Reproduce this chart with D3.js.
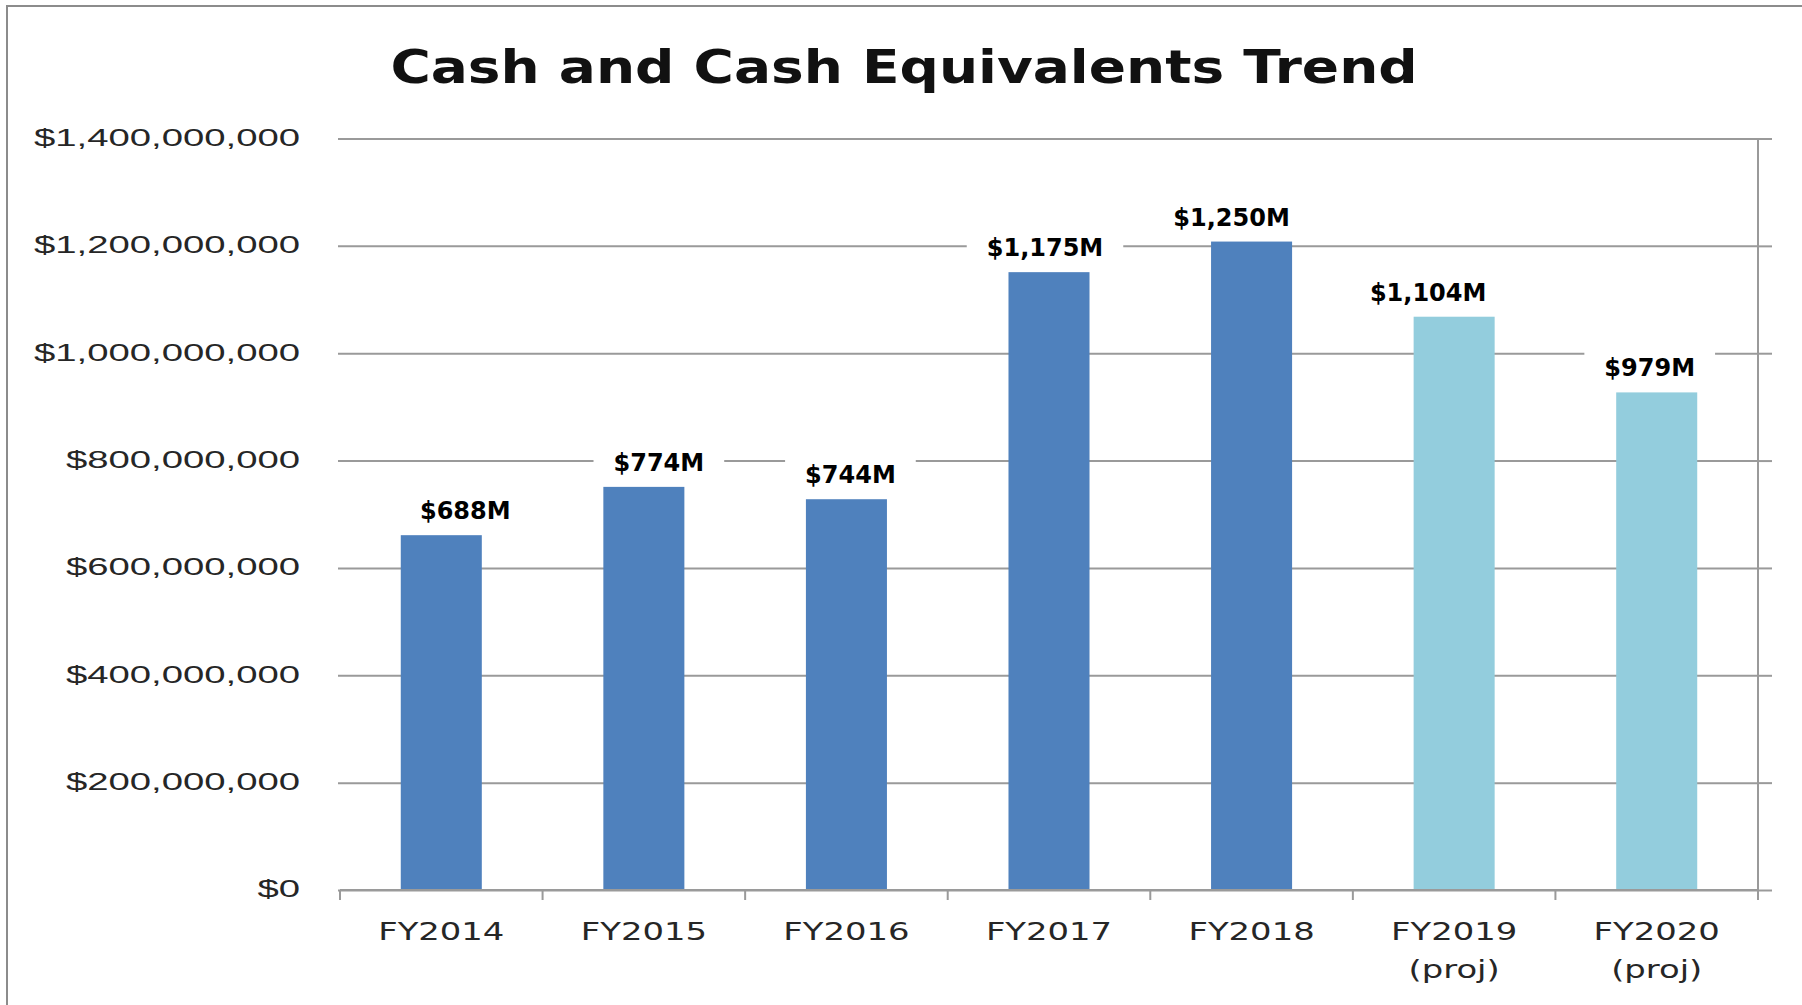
<!DOCTYPE html>
<html>
<head>
<meta charset="utf-8">
<script src="https://cdn.jsdelivr.net/npm/d3@7"></script>
<style>
    body { margin: 0; background: #fff; }
    svg { display: block; font-family: "DejaVu Sans", Verdana, sans-serif; }
</style>
</head>
<body>
<div id="chart"></div>
<script>
// Chart data
const years = ['FY2014', 'FY2015', 'FY2016', 'FY2017', 'FY2018', 'FY2019', 'FY2020'];
const subLabels = ['', '', '', '', '', '(proj)', '(proj)'];
const cashValues = [661e6, 751e6, 728e6, 1151e6, 1208e6, 1068e6, 927e6];
const valueLabels = ['$688M', '$774M', '$744M', '$1,175M', '$1,250M', '$1,104M', '$979M'];
const projected = [false, false, false, false, false, true, true];
const yTicks = [0, 2e8, 4e8, 6e8, 8e8, 1e9, 1.2e9, 1.4e9];

// label nudges (px), labels were hand placed in the original
const labelNudge = [24, 15, 4, -4, -20, -26, -7];

const W = 1802, H = 1005;
const margin = { top: 138.5, right: 44, bottom: 115, left: 340 };
const innerW = W - margin.left - margin.right;
const innerH = H - margin.top - margin.bottom;
const stretch = 1.55; // axis text is wide in the original
const catStretch = 1.37;

const svg = d3.select("#chart")
    .append("svg")
    .attr("width", W)
    .attr("height", H);

// outer chart border
svg.append("rect")
    .attr("x", 7).attr("y", 6)
    .attr("width", W + 20).attr("height", H + 20)
    .attr("fill", "none")
    .attr("stroke", "#8c8c8c")
    .attr("stroke-width", 2);

svg.append("text")
    .attr("transform", "translate(904,83) scale(1.17,1)")
    .attr("text-anchor", "middle")
    .style("font-size", "47px")
    .style("font-weight", "bold")
    .style("fill", "#111")
    .text("Cash and Cash Equivalents Trend");

const g = svg.append("g")
    .attr("transform", "translate(" + margin.left + "," + margin.top + ")");

const x = d3.scaleBand()
    .domain(years)
    .range([0, innerW])
    .paddingInner(0.6)
    .paddingOuter(0.3);

const y = d3.scaleLinear()
    .domain([0, 1.4e9])
    .range([innerH, 0]);

// gridlines + y labels
const yAxis = g.append("g")
    .call(d3.axisLeft(y)
        .tickValues(yTicks)
        .tickSize(-(innerW + 2))
        .tickFormat(d => "$" + d3.format(",")(d)));
yAxis.attr("transform", "translate(-2,0)");
yAxis.select(".domain").remove();
yAxis.selectAll(".tick line")
    .attr("stroke", "#9a9a9a")
    .attr("stroke-width", 2);
yAxis.selectAll(".tick text")
    .attr("x", -38 / stretch)
    .attr("dy", "0.28em")
    .attr("transform", "scale(" + stretch + ",1)")
    .style("font-size", "24.7px")
    .style("fill", "#262626");

// right axis line with outward ticks
const rAxis = g.append("g")
    .attr("transform", "translate(" + innerW + ",0)")
    .call(d3.axisRight(y).tickValues(yTicks).tickSize(14).tickFormat(""));
rAxis.select(".domain")
    .attr("d", "M0," + (innerH + 10) + "V0")
    .attr("stroke", "#9a9a9a")
    .attr("stroke-width", 2);
rAxis.selectAll(".tick line")
    .attr("stroke", "#9a9a9a")
    .attr("stroke-width", 2);

// bars
g.selectAll(".bar")
    .data(years)
    .enter()
    .append("rect")
    .attr("class", "bar")
    .attr("x", d => x(d))
    .attr("width", x.bandwidth())
    .attr("y", (d, i) => y(cashValues[i]))
    .attr("height", (d, i) => innerH - y(cashValues[i]))
    .attr("fill", (d, i) => projected[i] ? "#93CDDD" : "#4F81BD");

// bottom axis line and boundary ticks
const xb = g.append("g").attr("transform", "translate(0," + innerH + ")");
xb.append("line")
    .attr("x1", 0).attr("x2", innerW)
    .attr("stroke", "#9a9a9a").attr("stroke-width", 2);
xb.selectAll(".bt")
    .data(d3.range(years.length + 1))
    .enter()
    .append("line")
    .attr("x1", i => i * x.step()).attr("x2", i => i * x.step())
    .attr("y1", 0).attr("y2", 10)
    .attr("stroke", "#9a9a9a").attr("stroke-width", 2);

// category labels
const cat = xb.selectAll(".cat")
    .data(years)
    .enter()
    .append("g")
    .attr("transform", d => "translate(" + (x(d) + x.bandwidth() / 2) + ",50)");
cat.append("text")
    .attr("text-anchor", "middle")
    .attr("transform", "scale(" + catStretch + ",1)")
    .style("font-size", "24.7px")
    .style("fill", "#262626")
    .text(d => d);
cat.append("text")
    .attr("text-anchor", "middle")
    .attr("y", 38)
    .attr("transform", "scale(" + catStretch + ",1)")
    .style("font-size", "24.7px")
    .style("fill", "#262626")
    .text((d, i) => subLabels[i]);

// value labels with white boxes
const lab = g.selectAll(".lab")
    .data(years)
    .enter()
    .append("g")
    .attr("transform", (d, i) => "translate(" + (x(d) + x.bandwidth() / 2 + labelNudge[i]) + "," + (y(cashValues[i]) - 16) + ")");
lab.append("text")
    .attr("text-anchor", "middle")
    .style("font-size", "24px")
    .style("font-weight", "bold")
    .style("fill", "#000")
    .text((d, i) => valueLabels[i]);
lab.each(function () {
    const bb = d3.select(this).select("text").node().getBBox();
    d3.select(this).insert("rect", "text")
        .attr("x", bb.x - 20).attr("y", bb.y - 3)
        .attr("width", bb.width + 40).attr("height", bb.height + 6)
        .attr("fill", "#fff");
});
</script>
</body>
</html>
